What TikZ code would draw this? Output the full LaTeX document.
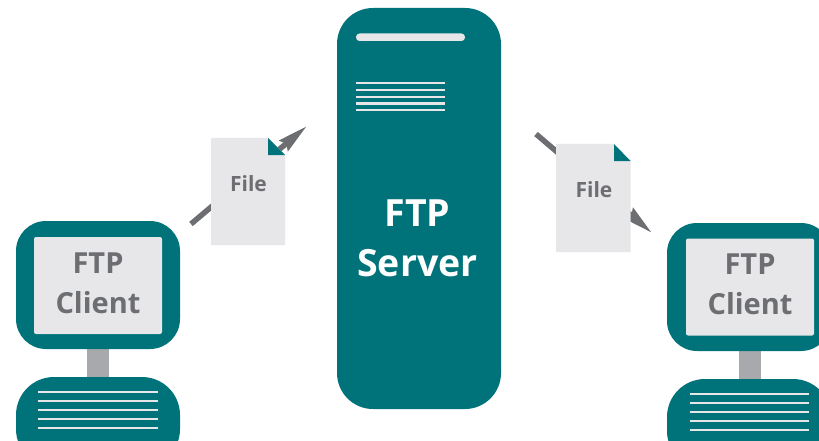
\documentclass[tikz,border=0pt]{standalone}
\usepackage{fontspec}
\setmainfont{Open Sans}
\usetikzlibrary{arrows.meta}
\definecolor{teal1}{HTML}{00727A}
\definecolor{gtext}{HTML}{6D6E71}
\definecolor{pale}{HTML}{E7E7E9}
\definecolor{stand}{HTML}{A7A9AC}
\tikzset{
  x=1pt,y=-1pt,
  box/.style={draw=none,inner sep=0pt,outer sep=0pt,anchor=north west},
  screenframe/.style={box,fill=teal1,rounded corners=30pt,minimum width=164pt,minimum height=128pt},
  screen/.style={box,fill=pale,rounded corners=2pt,minimum width=128pt,minimum height=97pt,
    text=gtext,align=center,font=\fontsize{29}{40}\selectfont\bfseries},
  standbar/.style={box,fill=stand,minimum width=22pt,minimum height=30pt},
  keyboard/.style={box,fill=teal1,rounded corners=38pt,minimum width=164pt,minimum height=90pt},
  rule/.style={draw=pale,line width=2.6pt},
  link/.style={draw=gtext,line width=5.5pt,-{Stealth[length=30pt,width=13pt,inset=3pt]}},
  filebody/.style={fill=pale},
  fold/.style={fill=teal1},
  filelabel/.style={inner sep=0pt,text=gtext,font=\fontsize{21}{24}\selectfont\bfseries},
}
\begin{document}
\begin{tikzpicture}
\useasboundingbox (0,0) rectangle (819,441);
\clip (0,0) rectangle (819,441);
\fill[white] (0,0) rectangle (819,441);

% connectors (behind the files)
\coordinate (la) at (191,224);
\coordinate (lb) at (307,126);
\coordinate (ra) at (536,134);
\coordinate (rb) at (652,233);
\path[link] (la) -- (lb);
\path[link] (ra) -- (rb);

% server
\node[box,fill=teal1,rounded corners=36pt,minimum width=164pt,minimum height=401pt] (server) at (337,8) {};
\node[box,fill=pale,rounded corners=3.5pt,minimum width=109pt,minimum height=7.5pt] (serverbar) at (356,33.5) {};
\foreach \y in {83,90,97,103.5,110} \draw[rule] (356,\y) -- (444.5,\y);
\node[inner sep=0pt,text=white,align=center,font=\fontsize{37.5}{50}\selectfont\bfseries] (servertext) at (417.5,238) {FTP\\Server};

% left file
\path[filebody] (211,138) -- (268,138) -- (285,155) -- (285,245) -- (211,245) -- cycle;
\path[fold] (268,138) -- (285,155) -- (268,155) -- cycle;
\node[filelabel] (file1) at (248.5,184) {File};

% right file
\path[filebody] (556,144) -- (614,144) -- (630.5,161) -- (630.5,252) -- (556,252) -- cycle;
\path[fold] (614,144) -- (630.5,161) -- (614,161) -- cycle;
\node[filelabel] (file2) at (594,190) {File};

% left client
\node[standbar] (stand1) at (87,348) {};
\node[keyboard] (kbd1) at (16,377) {};
\node[screenframe] (frame1) at (16,221) {};
\node[screen] (client1) at (34,237) {\raisebox{1.5pt}{\shortstack[c]{\vphantom{Ag}}}\kern-\fontdimen2\font};
\node[inner sep=0pt,text=gtext,align=center,font=\fontsize{29}{40}\selectfont\bfseries] (label1) at (98,283) {FTP\\Client};
\foreach \y in {392,401,410,419,428} \draw[rule] (38,\y) -- (158,\y);

% right client
\node[standbar] (stand2) at (739,350) {};
\node[keyboard] (kbd2) at (667,379) {};
\node[screenframe] (frame2) at (667,223) {};
\node[screen] (client2) at (686,238.5) {};
\node[inner sep=0pt,text=gtext,align=center,font=\fontsize{29}{40}\selectfont\bfseries] (label2) at (750,284) {FTP\\Client};
\foreach \y in {394,403,412,421,430} \draw[rule] (690,\y) -- (809,\y);
\end{tikzpicture}
\end{document}
